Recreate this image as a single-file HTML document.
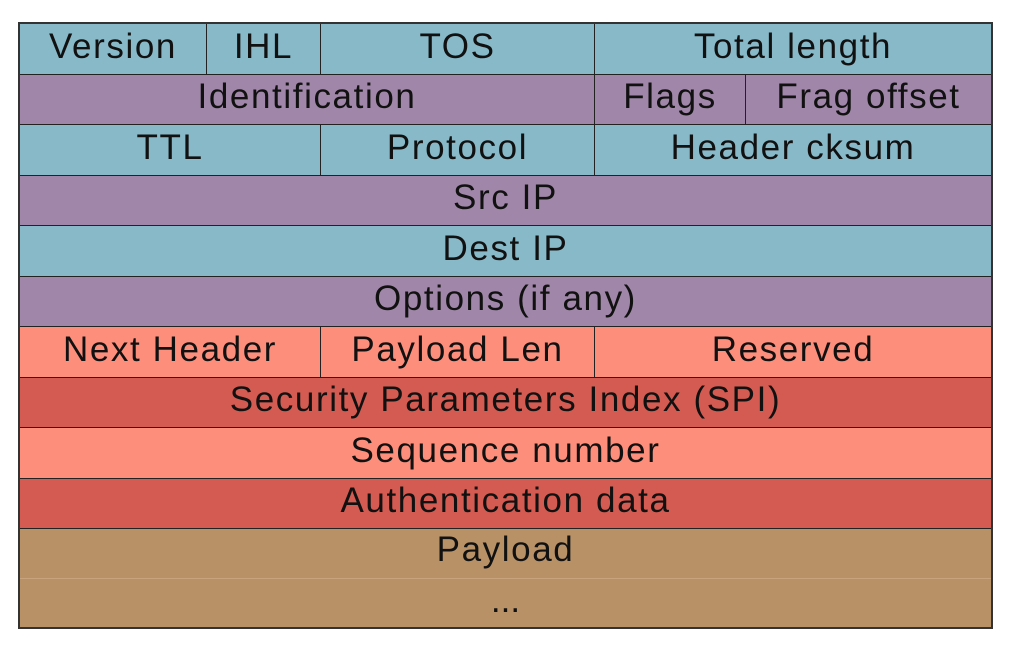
<!DOCTYPE html>
<html><head><style>
body{margin:0;width:1011px;height:649px;background:#fff;position:relative;overflow:hidden;font-family:"Liberation Sans","DejaVu Sans",sans-serif}
.c{position:absolute;box-sizing:border-box;border:1px solid #222;display:flex;align-items:center;justify-content:center;font-size:35px;color:#111;white-space:nowrap;letter-spacing:1.6px;padding-bottom:5px}
.b{background:#87b9c8}.p{background:#a087a9}.s{background:#fd8e7b}.r{background:#d45b51}.w{background:#b99166}
</style></head><body>
<div class="c b" style="left:19px;top:23px;width:188px;height:52px">Version</div>
<div class="c b" style="left:206px;top:23px;width:115px;height:52px">IHL</div>
<div class="c b" style="left:320px;top:23px;width:275px;height:52px">TOS</div>
<div class="c b" style="left:594px;top:23px;width:398px;height:52px">Total length</div>
<div class="c p" style="left:19px;top:74px;width:576px;height:51px">Identification</div>
<div class="c p" style="left:594px;top:74px;width:152px;height:51px">Flags</div>
<div class="c p" style="left:745px;top:74px;width:247px;height:51px">Frag offset</div>
<div class="c b" style="left:19px;top:124px;width:302px;height:52px">TTL</div>
<div class="c b" style="left:320px;top:124px;width:275px;height:52px">Protocol</div>
<div class="c b" style="left:594px;top:124px;width:398px;height:52px">Header cksum</div>
<div class="c p" style="left:19px;top:175px;width:973px;height:51px">Src IP</div>
<div class="c b" style="left:19px;top:225px;width:973px;height:52px">Dest IP</div>
<div class="c p" style="left:19px;top:276px;width:973px;height:51px">Options (if any)</div>
<div class="c s" style="left:19px;top:326px;width:302px;height:52px">Next Header</div>
<div class="c s" style="left:320px;top:326px;width:275px;height:52px">Payload Len</div>
<div class="c s" style="left:594px;top:326px;width:398px;height:52px">Reserved</div>
<div class="c r" style="left:19px;top:377px;width:973px;height:51px">Security Parameters Index (SPI)</div>
<div class="c s" style="left:19px;top:427px;width:973px;height:52px">Sequence number</div>
<div class="c r" style="left:19px;top:478px;width:973px;height:51px">Authentication data</div>
<div class="c w" style="left:19px;top:528px;width:973px;height:100px;align-items:flex-start;padding-top:1px">Payload</div>
<div style="position:absolute;left:20px;top:578px;width:971px;height:1px;background:#c9a27e"></div>
<div style="position:absolute;left:19px;top:578px;width:973px;height:50px;display:flex;align-items:center;justify-content:center;font-size:35px;color:#111;padding-bottom:4px;box-sizing:border-box">...</div>
<div style="position:absolute;left:18px;top:22px;width:975px;height:607px;box-sizing:border-box;border:2px solid #333"></div>
</body></html>
